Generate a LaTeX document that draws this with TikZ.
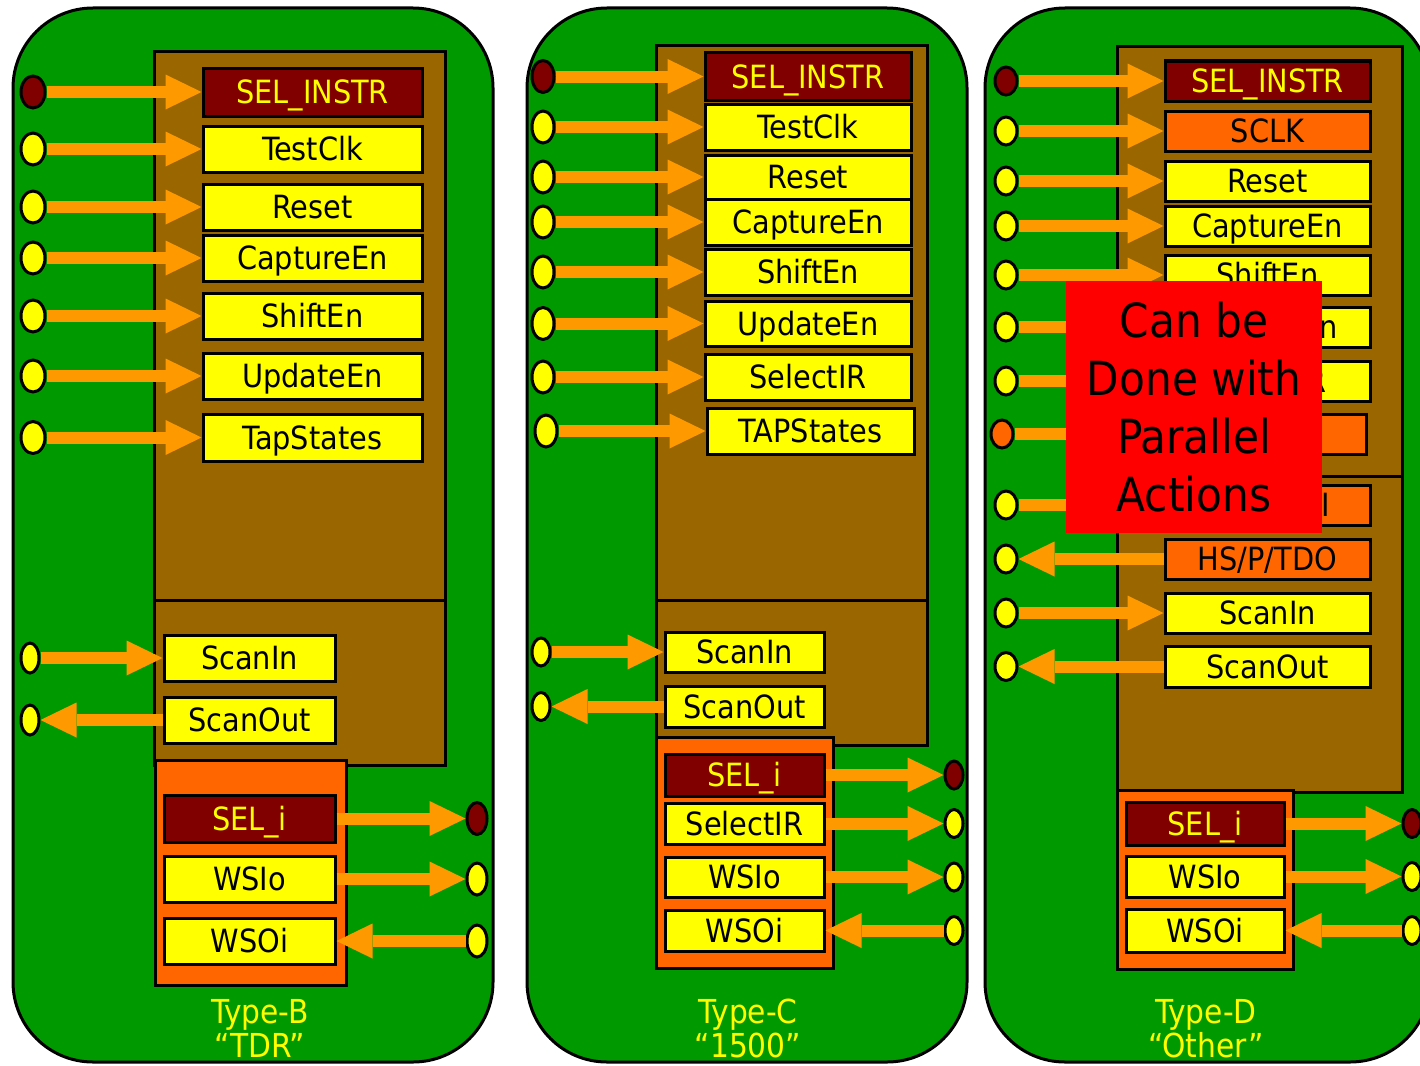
\documentclass[tikz,border=0pt]{standalone}
\usepackage{fontspec}
\usetikzlibrary{arrows.meta,shapes.geometric}
\IfFontExistsTF{DejaVu Sans Condensed}{%
  \setmainfont{DejaVu Sans Condensed}%
  \newcommand\lblsize{32}\newcommand\lblcap{23.3pt}\newcommand\capsize{33}\newcommand\bigsize{47}}{%
  \setmainfont{DejaVu Sans}%
  \newcommand\lblsize{28}\newcommand\lblcap{20.4pt}\newcommand\capsize{29}\newcommand\bigsize{42}}
\newcommand\lblfont{\fontsize{\lblsize}{\lblsize}\selectfont}
\newcommand\capfont{\fontsize{\capsize}{\capsize}\selectfont}
\newcommand\bigfont{\fontsize{\bigsize}{58}\selectfont}

\definecolor{board}{HTML}{009900}
\definecolor{core}{HTML}{996600}
\definecolor{wrap}{HTML}{FF6600}
\definecolor{wire}{HTML}{FF9900}
\definecolor{selred}{HTML}{800000}
\definecolor{sigyellow}{HTML}{FFFF00}
\definecolor{notered}{HTML}{FF0000}

\tikzset{
  panel/.style={draw=black, line width=3pt, fill=board, rounded corners=80pt, inner sep=0pt},
  corebox/.style={draw=black, line width=3pt, fill=core, inner sep=0pt},
  wrapbox/.style={draw=black, line width=3pt, fill=wrap, inner sep=0pt},
  reg/.style={draw=black, line width=3pt, fill=sigyellow, inner sep=0pt,
    font=\lblfont, text height=\lblcap, text depth=0pt},
  selreg/.style={reg, fill=selred, text=sigyellow},
  ctlreg/.style={reg, fill=wrap},
  port/.style={ellipse, draw=black, line width=3pt, fill=sigyellow, inner sep=0pt},
  selport/.style={port, fill=selred},
  ctlport/.style={port, fill=wrap},
  wireto/.style={draw=wire, line width=12pt,
    -{Triangle[length=36pt,width=35pt,line width=0pt]}},
  divider/.style={draw=black, line width=3pt},
  caption/.style={text=sigyellow, font=\capfont, anchor=base},
}

% style, name, x1, y1, x2, y2, text
\newcommand\regbox[7]{%
  \node[#1, minimum width={(#5-#3)*1pt}, minimum height={(#6-#4)*1pt}]
    (#2) at ({(#3+#5)/2},{(#4+#6)/2}) {#7};}
% style, name, cx, cy, rx, ry
\newcommand\portnode[6]{%
  \node[#1, minimum width={2*#5*1pt}, minimum height={2*#6*1pt}] (#2) at (#3,#4) {};}
% wires: into a register from a port on its left / right, out to a port
\newcommand\inL[2]{\draw[wireto] (#1.east) -- (#1.east -| #2.west);}
\newcommand\outL[2]{\draw[wireto] (#2.east -| #1.west) -- (#2.east);}
\newcommand\outR[2]{\draw[wireto] (#2.west -| #1.east) -- (#2.west);}
\newcommand\inR[2]{\draw[wireto] (#1.west) -- (#1.west -| #2.east);}

\begin{document}
\begin{tikzpicture}[x=1pt, y=-1pt]
\useasboundingbox (0,0) rectangle (1420,1065);
\clip (0,0) rectangle (1420,1065);
\fill[white] (0,0) rectangle (1420,1065);

% ---------------- Type-B "TDR" ----------------
\regbox{panel}{boardA}{13}{8}{493}{1062}{}
\regbox{corebox}{coreA}{154}{52}{445}{765}{}
\draw[divider] (coreA.west |- 0,600) -- (coreA.east |- 0,600);
\regbox{wrapbox}{wrapA}{155}{760}{346}{985}{}

\regbox{selreg}{selA}{203}{68}{422}{116}{SEL\_INSTR}
\regbox{reg}{clkA}{203}{126}{422}{172}{TestClk}
\regbox{reg}{rstA}{203}{184}{422}{230}{Reset}
\regbox{reg}{capA}{203}{235}{422}{281}{CaptureEn}
\regbox{reg}{shA}{203}{293}{422}{339}{ShiftEn}
\regbox{reg}{updA}{203}{353}{422}{399}{UpdateEn}
\regbox{reg}{tapA}{203}{414}{422}{461}{TapStates}
\regbox{reg}{siA}{164}{635}{335}{681}{ScanIn}
\regbox{reg}{soA}{164}{697}{335}{743}{ScanOut}
\regbox{selreg}{seliA}{164}{795}{335}{842}{SEL\_i}
\regbox{reg}{wsioA}{164}{856}{335}{902}{WSIo}
\regbox{reg}{wsoiA}{164}{918}{335}{964}{WSOi}

\portnode{selport}{pselA}{33}{92}{12}{16}
\portnode{port}{pclkA}{33}{149}{12}{16}
\portnode{port}{prstA}{33}{207}{12}{16}
\portnode{port}{pcapA}{33}{258}{12}{16}
\portnode{port}{pshA}{33}{316}{12}{16}
\portnode{port}{pupdA}{33}{376}{12}{16}
\portnode{port}{ptapA}{33}{437.5}{12}{16}
\portnode{port}{psiA}{30}{658}{9}{15}
\portnode{port}{psoA}{30}{720}{9}{15}
\portnode{selport}{pseliA}{477}{818.5}{10}{16}
\portnode{port}{pwsioA}{477}{879}{10}{16}
\portnode{port}{pwsoiA}{477}{941}{10}{16}

\inL{pselA}{selA}
\inL{pclkA}{clkA}
\inL{prstA}{rstA}
\inL{pcapA}{capA}
\inL{pshA}{shA}
\inL{pupdA}{updA}
\inL{ptapA}{tapA}
\inL{psiA}{siA}
\outL{soA}{psoA}
\outR{seliA}{pseliA}
\outR{wsioA}{pwsioA}
\inR{pwsoiA}{wsoiA}

\node[caption] (typeA) at (260,1023) {Type-B};
\node[caption] (nameA) at (260,1057) {“TDR”};

% ---------------- Type-C "1500" ----------------
\regbox{panel}{boardB}{527}{8}{967}{1062}{}
\regbox{corebox}{coreB}{656}{46}{927}{745}{}
\draw[divider] (coreB.west |- 0,600) -- (coreB.east |- 0,600);
\regbox{wrapbox}{wrapB}{656}{737}{833}{968}{}

\regbox{selreg}{selB}{705}{53}{911}{100}{SEL\_INSTR}
\regbox{reg}{clkB}{705}{104}{911}{150}{TestClk}
\regbox{reg}{rstB}{705}{155}{911}{199}{Reset}
\regbox{reg}{capB}{705}{199}{911}{245}{CaptureEn}
\regbox{reg}{shB}{705}{249}{911}{295}{ShiftEn}
\regbox{reg}{updB}{705}{301}{911}{346}{UpdateEn}
\regbox{reg}{sirB}{705}{354}{911}{400}{SelectIR}
\regbox{reg}{tapB}{707}{408}{914}{454}{TAPStates}
\regbox{reg}{siB}{665}{632}{824}{672}{ScanIn}
\regbox{reg}{soB}{665}{686}{824}{727}{ScanOut}
\regbox{selreg}{seliB}{665}{754}{824}{796}{SEL\_i}
\regbox{reg}{selirB}{665}{803}{824}{844}{SelectIR}
\regbox{reg}{wsioB}{665}{857}{824}{897}{WSIo}
\regbox{reg}{wsoiB}{665}{910}{824}{951}{WSOi}

\portnode{selport}{pselB}{543}{76.5}{11}{16}
\portnode{port}{pclkB}{543}{127}{11}{16}
\portnode{port}{prstB}{543}{177}{11}{16}
\portnode{port}{pcapB}{543}{222}{11}{16}
\portnode{port}{pshB}{543}{272}{11}{16}
\portnode{port}{pupdB}{543}{323.5}{11}{16}
\portnode{port}{psirB}{543}{377}{11}{16}
\portnode{port}{ptapB}{546}{431}{11}{16}
\portnode{port}{psiB}{541}{652}{9}{14}
\portnode{port}{psoB}{541}{706.5}{9}{14}
\portnode{selport}{pseliB}{954}{775}{9}{14}
\portnode{port}{pselirB}{954}{823.5}{9}{14}
\portnode{port}{pwsioB}{954}{877}{9}{14}
\portnode{port}{pwsoiB}{954}{930.5}{9}{14}

\inL{pselB}{selB}
\inL{pclkB}{clkB}
\inL{prstB}{rstB}
\inL{pcapB}{capB}
\inL{pshB}{shB}
\inL{pupdB}{updB}
\inL{psirB}{sirB}
\inL{ptapB}{tapB}
\inL{psiB}{siB}
\outL{soB}{psoB}
\outR{seliB}{pseliB}
\outR{selirB}{pselirB}
\outR{wsioB}{pwsioB}
\inR{pwsoiB}{wsoiB}

\node[caption] (typeB) at (748,1023) {Type-C};
\node[caption] (nameB) at (748,1057) {“1500”};

% ---------------- Type-D "Other" ----------------
\regbox{panel}{boardC}{985}{8}{1430}{1062}{}
\regbox{corebox}{coreC}{1117}{47}{1402}{792}{}
\draw[divider] (coreC.west |- 0,476) -- (coreC.east |- 0,476);
\regbox{wrapbox}{wrapC}{1117}{790}{1293}{969}{}

\regbox{selreg}{selC}{1165}{61}{1370}{101}{SEL\_INSTR}
\regbox{ctlreg}{sclkC}{1165}{111}{1370}{151}{SCLK}
\regbox{reg}{rstC}{1165}{161}{1370}{201}{Reset}
\regbox{reg}{capC}{1165}{206}{1370}{246}{CaptureEn}
\regbox{reg}{shC}{1165}{255}{1370}{295}{ShiftEn}
\regbox{reg}{updC}{1165}{307}{1370}{347}{UpdateEn}
\regbox{reg}{sirC}{1165}{361}{1370}{401}{SelectIR}
\regbox{ctlreg}{ctlC}{1165}{414}{1366}{454}{}
\regbox{ctlreg}{tdiC}{1165}{485}{1370}{525}{HS/P/TDI}
\regbox{ctlreg}{tdoC}{1165}{539}{1370}{579}{HS/P/TDO}
\regbox{reg}{siC}{1165}{593}{1370}{633}{ScanIn}
\regbox{reg}{soC}{1165}{646}{1370}{687}{ScanOut}
\regbox{selreg}{seliC}{1126}{802}{1284}{845}{SEL\_i}
\regbox{reg}{wsioC}{1126}{856}{1284}{897}{WSIo}
\regbox{reg}{wsoiC}{1126}{909}{1284}{952}{WSOi}

\portnode{selport}{pselC}{1006}{81}{11}{14}
\portnode{port}{psclkC}{1006}{131}{11}{14}
\portnode{port}{prstC}{1006}{181}{11}{14}
\portnode{port}{pcapC}{1006}{226}{11}{14}
\portnode{port}{pshC}{1006}{275}{11}{14}
\portnode{port}{pupdC}{1006}{327}{11}{14}
\portnode{port}{psirC}{1006}{381}{11}{14}
\portnode{ctlport}{pctlC}{1002}{434}{11}{14}
\portnode{port}{ptdiC}{1006}{505}{11}{14}
\portnode{port}{ptdoC}{1006}{559}{11}{14}
\portnode{port}{psiC}{1006}{613}{11}{14}
\portnode{port}{psoC}{1006}{666.5}{11}{14}
\portnode{selport}{pseliC}{1412}{823.5}{9}{14}
\portnode{port}{pwsioC}{1412}{876.5}{9}{14}
\portnode{port}{pwsoiC}{1412}{930.5}{9}{14}

\inL{pselC}{selC}
\inL{psclkC}{sclkC}
\inL{prstC}{rstC}
\inL{pcapC}{capC}
\inL{pshC}{shC}
\inL{pupdC}{updC}
\inL{psirC}{sirC}
\inL{pctlC}{ctlC}
\inL{ptdiC}{tdiC}
\outL{tdoC}{ptdoC}
\inL{psiC}{siC}
\outL{soC}{psoC}
\outR{seliC}{pseliC}
\outR{wsioC}{pwsioC}
\inR{pwsoiC}{wsoiC}

\node[caption] (typeC) at (1206,1023) {Type-D};
\node[caption] (nameC) at (1206,1057) {“Other”};

% call-out over the Type-D control block
\node[fill=notered, inner sep=0pt, minimum width=256pt, minimum height=252pt,
      align=center, font=\bigfont] (note) at (1194,407)
      {Can be\\Done with\\Parallel\\Actions};
\end{tikzpicture}
\end{document}
